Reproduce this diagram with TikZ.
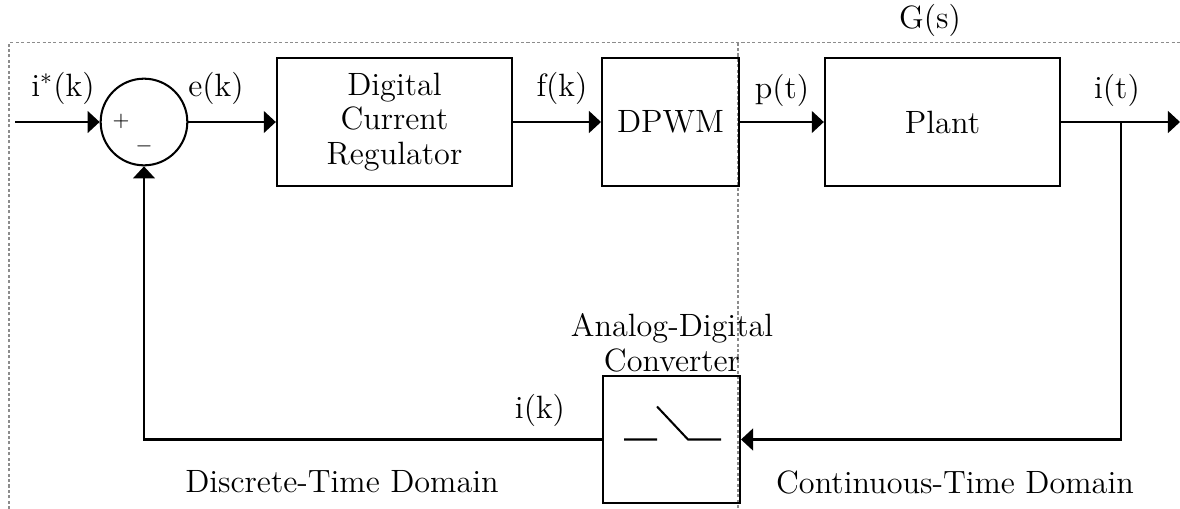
\documentclass[tikz,border=0pt,12pt]{standalone}
\usepackage{xcolor}
\definecolor{Frame}{HTML}{8C8C8C}
\usepackage{tikz}
\usetikzlibrary{arrows.meta}

\begin{document}
\begin{tikzpicture}[x=0.1373cm,y=-0.1373cm,line width=0.8pt,
  font=\fontsize{12.6pt}{13.5pt}\selectfont,
  blk/.style={draw,rectangle,minimum width=3.23cm,minimum height=1.76cm,
    align=center,inner sep=0pt},
  sig/.style={-{Triangle[length=4.7pt,width=8.5pt]}},
  zoneline/.style={draw=Frame,line width=0.45pt,dash pattern=on 1.2pt off 0.9pt}]
\useasboundingbox (0,0) rectangle (118,50.9);
\draw[zoneline] (0.9,50.9) |- (118,4.27);
\draw[zoneline] (73.8,4.27) -- (73.8,50.9);
% blocks
\node[draw,circle,minimum size=1.19cm,inner sep=0pt] (sum) at (14.4,12.2) {};
\node[font=\fontsize{8pt}{9pt}\selectfont] (plus) at (12.1,12.1) {$+$};
\node[font=\fontsize{8pt}{9pt}\selectfont] (minus) at (14.4,14.6) {$-$};
\node[blk] (reg) at (39.45,12.2) {Digital\\Current\\Regulator};
\node[blk,minimum width=1.88cm] (dpwm) at (67.05,12.2) {DPWM};
\node[blk] (plant) at (94.25,12.2) {Plant};
\node[blk,minimum width=1.88cm,minimum height=1.744cm] (adc) at (67.15,43.95) {};
\node[align=center] (adclab) at (67.2,34.3) {Analog-Digital\\Converter};
\begin{scope}[shift={(adc.center)}]
\draw (-4.75,0) -- (-1.45,0) (-1.45,-3.3) -- (1.65,0) -- (4.95,0);
\end{scope}
% connectors
\coordinate (in) at (1.5,12.2);
\coordinate (out) at (118,12.2);
\coordinate (tap) at (112.1,12.2);
\draw[sig] (in) -- (sum);
\draw[sig] (sum) -- (reg);
\draw[sig] (reg) -- (dpwm);
\draw[sig] (dpwm) -- (plant);
\draw[sig] (plant) -- (out);
\draw[sig] (tap) |- (adc);
\draw[sig] (adc) -| (sum);
% signal labels
\node (ref) at (6.3,8.8) {i$^*$(k)};
\node (err) at (21.6,8.8) {e(k)};
\node (duty) at (56.2,8.8) {f(k)};
\node (pwm) at (78.2,9.0) {p(t)};
\node (cur) at (111.7,9.0) {i(t)};
\node (gs) at (93.0,2.0) {G(s)};
\node (samp) at (54.0,41.0) {i(k)};
\node (disc) at (34.2,48.2) {Discrete-Time Domain};
\node (cont) at (95.5,48.2) {Continuous-Time Domain};
\end{tikzpicture}
\end{document}
